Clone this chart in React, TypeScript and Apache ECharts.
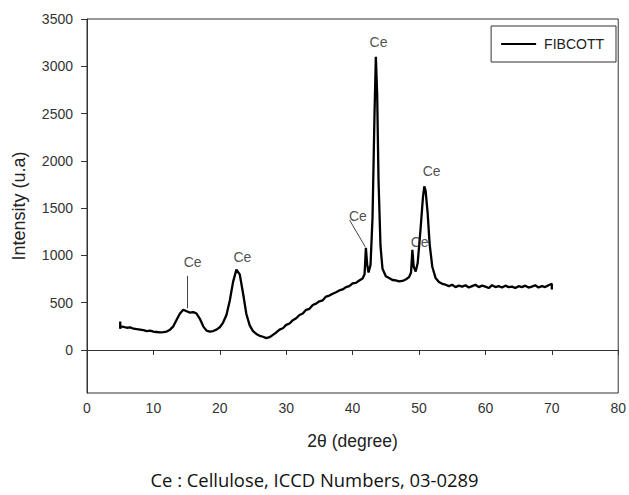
import React, { useEffect, useRef } from "react";
import * as echarts from "echarts";

const angles: number[] = [
  5.0, 5.0, 5.1, 5.5, 6, 6.5, 7, 7.5, 8, 8.5, 9, 9.5, 10, 10.5, 11, 11.5, 12, 12.5, 13, 13.5,
  14, 14.5, 15, 15.5, 16, 16.5, 17, 17.5, 18, 18.5, 19, 19.5, 20, 20.5, 21, 21.5, 22, 22.5, 23, 23.5,
  24, 24.5, 25, 25.5, 26, 26.5, 27, 27.5, 28, 28.5, 29, 29.5, 30, 30.5, 31, 31.5, 32, 32.5, 33, 33.5,
  34, 34.5, 35, 35.5, 36, 36.5, 37, 37.5, 38, 38.5, 39, 39.5, 40, 40.5, 41, 41.5, 41.8, 42.0, 42.2, 42.4,
  42.7, 43.0, 43.3, 43.5, 43.7, 43.9, 44.2, 44.5, 45, 45.5, 46, 46.5, 47, 47.5, 48, 48.5, 48.8, 49.0,
  49.2, 49.5, 49.8, 50.2, 50.6, 50.8, 51.0, 51.3, 51.6, 52.0, 52.5, 53, 53.5, 54, 54.5, 55, 55.5, 56,
  56.5, 57, 57.5, 58, 58.5, 59, 59.5, 60, 60.5, 61, 61.5, 62, 62.5, 63, 63.5, 64, 64.5, 65, 65.5, 66,
  66.5, 67, 67.5, 68, 68.5, 69, 69.5, 70, 70,
];

const intensities: number[] = [
  300, 225, 250, 245, 235, 240, 225, 220, 215, 210, 200, 205, 195, 190, 185, 188, 195, 215, 250, 320,
  385, 425, 410, 395, 400, 385, 330, 250, 205, 195, 200, 215, 240, 290, 370, 520, 720, 850, 800, 600,
  380, 260, 200, 170, 150, 140, 125, 135, 160, 185, 215, 230, 265, 280, 315, 335, 370, 385, 425, 435,
  475, 490, 515, 525, 565, 575, 595, 610, 630, 640, 665, 675, 705, 710, 735, 755, 800, 1080, 900, 820,
  900, 1400, 2500, 3100, 2700, 1800, 1100, 860, 780, 760, 740, 735, 725, 730, 745, 770, 820, 1060,
  880, 830, 920, 1250, 1620, 1730, 1680, 1450, 1120, 880, 760, 720, 700, 690, 675, 690, 665, 680,
  670, 685, 660, 675, 690, 665, 680, 670, 655, 685, 665, 675, 660, 680, 665, 670, 655, 675, 665, 680,
  660, 670, 685, 660, 675, 665, 685, 700, 640,
];

const yTicks: number[] = [0, 500, 1000, 1500, 2000, 2500, 3000, 3500];

const peakLabels: { x: number; y: number }[] = [
  { x: 15.9, y: 926 },
  { x: 23.4, y: 985 },
  { x: 43.9, y: 3262 },
  { x: 40.8, y: 1416 },
  { x: 50.1, y: 1144 },
  { x: 51.9, y: 1896 },
];

const leaderLines: [number, number, number, number][] = [
  [15.1, 784, 15.1, 441],
  [39.55, 1373, 41.9, 1091],
];

export default function App() {
  const ref = useRef<HTMLDivElement>(null);
  useEffect(() => {
    if (!ref.current) return;
    const chart = echarts.init(ref.current, null, { renderer: "svg" });
    const font = "Liberation Sans";
    chart.setOption({
      animation: false,
      backgroundColor: "#fff",
      textStyle: { fontFamily: font },
      grid: {
        left: 87,
        right: 8,
        top: 19,
        bottom: 102,
        show: true,
        borderColor: "#333",
        borderWidth: 1,
        containLabel: false,
      },
      legend: {
        data: ["FIBCOTT"],
        right: 13,
        top: 26,
        orient: "vertical",
        icon: "rect",
        borderColor: "#333",
        borderWidth: 1,
        borderRadius: 0,
        padding: [11, 12, 11, 10],
        itemWidth: 35,
        itemHeight: 2,
        itemGap: 0,
        textStyle: { fontSize: 14, color: "#222", fontFamily: font, padding: [0, 0, 0, 3] },
      },
      xAxis: {
        type: "value",
        min: 0,
        max: 80,
        interval: 10,
        name: "2θ (degree)",
        nameLocation: "middle",
        nameGap: 39,
        nameTextStyle: { fontSize: 17.5, color: "#222", fontFamily: font },
        axisLine: { show: true, lineStyle: { color: "#333", width: 1 } },
        axisTick: { show: true, length: 5, inside: false, lineStyle: { color: "#333" } },
        axisLabel: { fontSize: 14, color: "#333", margin: 8, fontFamily: font },
        splitLine: { show: false },
      },
      yAxis: {
        type: "value",
        min: -455,
        max: 3500,
        name: "Intensity (u.a)",
        nameLocation: "middle",
        nameGap: 59,
        nameRotate: 90,
        nameTextStyle: { fontSize: 18, color: "#222", fontFamily: font },
        axisLine: { show: true, lineStyle: { color: "#333", width: 1 } },
        axisTick: { show: true, length: 6, inside: false, customValues: yTicks, lineStyle: { color: "#333" } },
        axisLabel: {
          fontSize: 14,
          color: "#333",
          margin: 14,
          customValues: yTicks,
          fontFamily: font,
          formatter: (v: number) => String(v),
        },
        splitLine: { show: false },
      },
      series: [
        {
          name: "FIBCOTT",
          type: "line",
          symbol: "none",
          data: angles.map((a, i) => [a, intensities[i]]),
          lineStyle: { color: "#000", width: 2.3 },
          itemStyle: { color: "#000" },
          z: 3,
          markLine: {
            silent: true,
            symbol: "none",
            label: { show: false },
            lineStyle: { color: "#444", width: 1, type: "solid" },
            data: leaderLines.map(([x1, y1, x2, y2]) => [
              { coord: [x1, y1] },
              { coord: [x2, y2] },
            ]),
          },
        },
        {
          name: "labels",
          type: "scatter",
          symbolSize: 0,
          data: peakLabels.map((p) => [p.x, p.y]),
          label: {
            show: true,
            position: "inside",
            formatter: "Ce",
            fontSize: 14,
            color: "#222",
            fontFamily: font,
          },
          silent: true,
          z: 4,
        },
      ],
      graphic: [
        {
          type: "text",
          left: "center",
          top: 470,
          style: {
            text: "Ce : Cellulose, ICCD Numbers, 03-0289",
            fontSize: 18.4,
            fill: "#111",
            fontFamily: "Open Sans",
          },
        },
      ],
    });
    return () => chart.dispose();
  }, []);
  return <div ref={ref} style={{ width: 629, height: 495, position: "absolute", left: 0, top: 0 }} />;
}
